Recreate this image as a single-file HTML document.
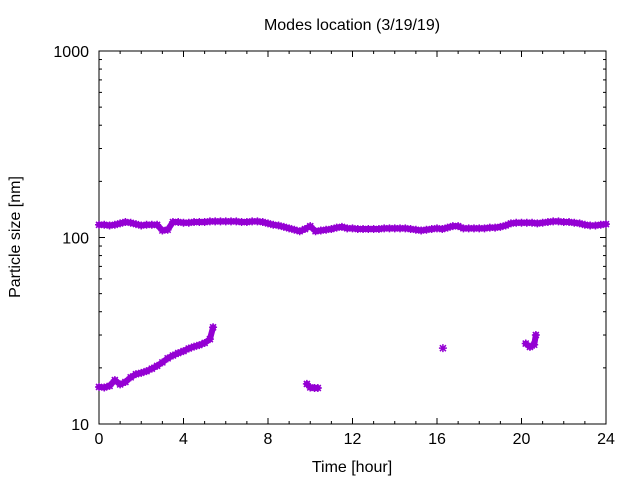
<!DOCTYPE html>
<html><head><meta charset="utf-8"><style>
body{margin:0;background:#fff}
svg text{font-family:"Liberation Sans",sans-serif;font-size:16px;fill:#000}
</style></head><body>
<svg width="640" height="480" xmlns="http://www.w3.org/2000/svg">
<g id="axes"></g><g id="data"></g>
<text x="352" y="30" text-anchor="middle">Modes location (3/19/19)</text>
<text x="352" y="472" text-anchor="middle">Time [hour]</text>
<text transform="translate(20,237) rotate(-90)" text-anchor="middle">Particle size [nm]</text>
</svg>
<script>
const upperTimes=[];for(let i=0;i<=96;i++)upperTimes.push(i*0.25);
const upperValues=[117,117,116,117,119,121,120,118,116,117,117,117,109,110,121,121,120,120,121,121,121,122,122,122,122,122,122,121,121,122,122,121,119,117,116,114,112,110,108,111,115,108,109,110,111,113,114,112,112,111,111,111,111,111,112,112,112,112,112,111,110,109,110,111,112,111,113,115,115,112,112,112,112,112,113,113,114,116,119,120,120,120,120,119,120,121,122,122,121,121,120,119,117,116,116,117,118];
const lowerTimes=[0,0.25,0.5,0.75,1,1.25,1.5,1.75,2,2.25,2.5,2.75,3,3.25,3.5,3.75,4,4.25,4.5,4.75,5,5.25,5.4,9.84,10.0,10.2,10.36,16.28,20.2,20.4,20.6,20.68];
const lowerValues=[15.8,15.7,16,17.2,16.3,16.8,17.8,18.5,18.8,19.2,19.8,20.5,21.4,22.5,23.3,24,24.6,25.4,26,26.5,27.2,28.5,33,16.4,15.7,15.6,15.6,25.5,27,25.9,26.6,30];
const xTicks=[0,4,8,12,16,20,24];
const yTicks=[10,100,1000];
const L=99,R=606,T=51,B=424;
const xs=t=>L+(R-L)*t/24;
const ys=v=>B-(B-T)*(Math.log10(v)-1)/2;
const NS="http://www.w3.org/2000/svg";
const ax=document.getElementById('axes'),dg=document.getElementById('data');
function mk(tag,at,p){const e=document.createElementNS(NS,tag);for(const k in at)e.setAttribute(k,at[k]);p.appendChild(e);return e;}
const fr=mk('rect',{x:L,y:T,width:R-L,height:B-T,fill:'none',stroke:'#000','stroke-width':1},ax);


for(let h=0;h<=24;h++){const x=xs(h),len=h%4==0?6:3;
mk('line',{x1:x,y1:B,x2:x,y2:B-len,stroke:'#000'},ax);mk('line',{x1:x,y1:T,x2:x,y2:T+len,stroke:'#000'},ax);}
xTicks.forEach(t=>{const e=mk('text',{x:xs(t),y:B+20,'text-anchor':'middle'},ax);e.textContent=t;

});
for(let d=10;d<1000;d*=10)for(let m=2;m<=9;m++){const y=ys(d*m);
mk('line',{x1:L,y1:y,x2:L+3,y2:y,stroke:'#000'},ax);mk('line',{x1:R,y1:y,x2:R-3,y2:y,stroke:'#000'},ax);}
yTicks.forEach(v=>{const y=ys(v);mk('line',{x1:L,y1:y,x2:L+6,y2:y,stroke:'#000'},ax);mk('line',{x1:R,y1:y,x2:R-6,y2:y,stroke:'#000'},ax);
const e=mk('text',{x:L-10,y:y+6,'text-anchor':'end'},ax);e.textContent=v;

});
function series(ts,vs,name){let seg=[];const segs=[];
for(let i=0;i<ts.length;i++){if(i>0&&ts[i]-ts[i-1]>0.5){segs.push(seg);seg=[];}seg.push([xs(ts[i]),ys(vs[i])]);}
segs.push(seg);
segs.forEach(s=>{const pl=mk('polyline',{points:s.map(p=>p.join(',')).join(' '),fill:'none',stroke:'#9400d3','stroke-width':6,'stroke-linecap':'round','stroke-linejoin':'round'},dg);

});
for(let i=0;i<ts.length;i++){const x=xs(ts[i]),y=ys(vs[i]);
const p=mk('path',{d:`M${x-4},${y}H${x+4}M${x},${y-4}V${y+4}M${x-3},${y-3}L${x+3},${y+3}M${x-3},${y+3}L${x+3},${y-3}`,stroke:'#9400d3','stroke-width':1.5},dg);

}}
series(upperTimes,upperValues,'upper-mode');
series(lowerTimes,lowerValues,'lower-mode');
</script>
</body></html>
